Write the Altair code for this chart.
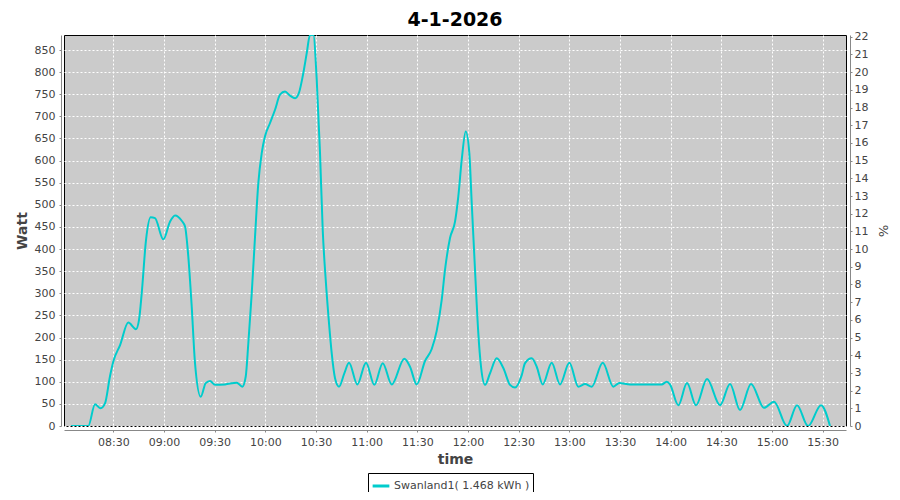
import altair as alt
import pandas as pd

title_text = "4-1-2026"
series_label = "Swanland1( 1.468 kWh )"

times = [
    "08:05:00", "08:09:20", "08:15:10", "08:19:10", "08:22:30", "08:25:05", "08:28:00",
    "08:30:00", "08:34:00", "08:38:53", "08:43:24", "08:45:13", "08:46:49", "08:49:22",
    "08:52:08", "08:54:41", "08:59:36", "09:03:34", "09:06:32", "09:10:30", "09:12:28",
    "09:14:24", "09:16:25", "09:18:22", "09:21:45", "09:24:42", "09:27:15", "09:30:13",
    "09:36:08", "09:43:06", "09:46:23", "09:48:24", "09:49:56", "09:51:57", "09:53:54",
    "09:55:51", "09:57:52", "09:59:49", "10:02:47", "10:05:45", "10:08:42", "10:11:40",
    "10:14:38", "10:17:36", "10:19:58", "10:22:30", "10:24:31", "10:26:28", "10:28:25",
    "10:30:26", "10:32:23", "10:33:59", "10:35:46", "10:37:43", "10:39:19", "10:41:16",
    "10:43:38", "10:46:46", "10:49:33", "10:54:28", "10:59:37", "11:04:32", "11:09:30",
    "11:14:50", "11:22:18", "11:25:40", "11:29:38", "11:34:33", "11:38:31", "11:41:28",
    "11:44:26", "11:46:23", "11:49:21", "11:52:19", "11:54:16", "11:56:17", "11:58:39",
    "12:00:47", "12:02:12", "12:04:09", "12:06:06", "12:07:42", "12:10:04", "12:13:02",
    "12:17:00", "12:20:55", "12:24:53", "12:27:51", "12:31:49", "12:33:46", "12:37:44",
    "12:40:41", "12:44:14", "12:49:34", "12:54:29", "13:00:00", "13:05:19", "13:09:18",
    "13:13:15", "13:19:46", "13:26:02", "13:29:35", "13:35:55", "13:49:43", "13:54:41",
    "13:57:39", "13:59:36", "14:04:31", "14:09:40", "14:15:00", "14:21:31", "14:29:13",
    "14:35:08", "14:41:03", "14:47:34", "14:55:16", "15:01:11", "15:08:53", "15:14:49",
    "15:21:20", "15:29:01", "15:34:20",
]
watts = [
    0, 0, 0, 49, 40, 51, 112,
    146, 183, 234, 219, 240, 300, 421,
    472, 470, 422, 462, 476, 464, 451,
    383, 270, 142, 66, 97, 102, 93,
    94, 98, 89, 112, 187, 300, 428,
    549, 617, 655, 685, 715, 749, 756,
    747, 741, 754, 798, 843, 884, 884,
    783, 617, 443, 330, 232, 164, 108,
    89, 119, 143, 94, 143, 93, 142,
    94, 152, 134, 94, 147, 174, 215,
    285, 353, 425, 462, 519, 602, 666,
    617, 504, 353, 210, 134, 93, 119,
    153, 131, 93, 87, 115, 142, 153,
    134, 94, 143, 94, 143, 89, 95,
    89, 143, 89, 97, 94, 94, 94,
    100, 94, 47, 97, 47, 106, 47,
    95, 36, 95, 41, 55, 0, 47,
    0, 47, 0,
]
x_ticks = ["08:30", "09:00", "09:30", "10:00", "10:30", "11:00", "11:30", "12:00",
           "12:30", "13:00", "13:30", "14:00", "14:30", "15:00", "15:30"]
x_range = ["08:00:48", "15:43:48"]
pct_divisor = 40
y_max = 884
left_ticks = list(range(0, 851, 50))
right_ticks = list(range(0, 23))


def to_min(s):
    parts = [int(p) for p in s.split(":")] + [0]
    return parts[0] * 60 + parts[1] + parts[2] / 60.0


df = pd.DataFrame({
    "minute": [to_min(t) for t in times],
    "watt": watts,
    "series": [series_label] * len(times),
})

font = "DejaVu Sans"
label_color = "#444444"
axis_gray = "#888888"

label_expr = (
    "(floor(datum.value / 60) < 10 ? '0' : '') + floor(datum.value / 60) + ':' + "
    "(round(datum.value % 60) < 10 ? '0' : '') + round(datum.value % 60)"
)

x_enc = alt.X(
    "minute:Q",
    scale=alt.Scale(domain=[to_min(x_range[0]), to_min(x_range[1])], nice=False, zero=False),
    axis=alt.Axis(
        title="time", values=[to_min(t) for t in x_ticks], labelExpr=label_expr,
        grid=True, gridColor="white", gridDash=[2, 2], gridWidth=1,
        offset=4, domainColor=axis_gray, tickColor=axis_gray, tickSize=2,
        labelFont=font, labelFontSize=11, labelColor=label_color, labelPadding=4,
        titleFont=font, titleFontSize=14, titleFontWeight="bold", titleColor=label_color,
        titlePadding=5,
    ),
)

line = alt.Chart(df).mark_line(
    interpolate="monotone", strokeWidth=2, clip=True
).encode(
    x=x_enc,
    y=alt.Y(
        "watt:Q",
        scale=alt.Scale(domain=[0, y_max], nice=False),
        axis=alt.Axis(
            title="Watt", values=left_ticks, grid=True, gridColor="white",
            gridDash=[2, 2], gridWidth=1, offset=3, domainColor=axis_gray,
            tickColor=axis_gray, tickSize=2, labelFont=font, labelFontSize=11,
            labelColor=label_color, labelPadding=4, titleFont=font, titleFontSize=14,
            titleFontWeight="bold", titleColor=label_color, titlePadding=5,
        ),
    ),
    color=alt.Color(
        "series:N",
        scale=alt.Scale(domain=[series_label], range=["#00cccc"]),
        legend=alt.Legend(
            title=None, orient="none", legendX=304, legendY=438, direction="horizontal",
            strokeColor="black", fillColor="white", padding=3, symbolType="stroke",
            symbolStrokeWidth=3, symbolSize=280, labelFont=font, labelFontSize=11,
            labelColor=label_color, labelOffset=3, labelLimit=0,
        ),
    ),
)

right = alt.Chart(df).transform_calculate(
    pct=f"datum.watt / {pct_divisor}"
).mark_line(strokeOpacity=0, clip=True).encode(
    x=alt.X("minute:Q"),
    y=alt.Y(
        "pct:Q",
        scale=alt.Scale(domain=[0, y_max / pct_divisor], nice=False),
        axis=alt.Axis(
            title="%", orient="right", values=right_ticks, grid=False, offset=4,
            domainColor=axis_gray, tickColor=axis_gray, tickSize=2, labelFont=font,
            labelFontSize=11, labelColor=label_color, labelPadding=2, titleFont=font,
            titleFontSize=13, titleFontWeight="normal", titleColor=label_color,
            titleAngle=90, titlePadding=8,
        ),
    ),
)

chart = alt.layer(line, right).resolve_scale(y="independent").properties(
    width=782,
    height=391,
    autosize=alt.AutoSizeParams(type="none"),
    padding={"left": 56, "top": 27, "right": 46, "bottom": 66},
    title=alt.Title(
        title_text, font=font, fontSize=19, fontWeight="bold", color="black",
        anchor="middle", offset=1,
    ),
).configure_view(fill="#cbcbcb", stroke="black", strokeWidth=1)

chart.save("out.html", embed_options={"renderer": "svg", "actions": False})
